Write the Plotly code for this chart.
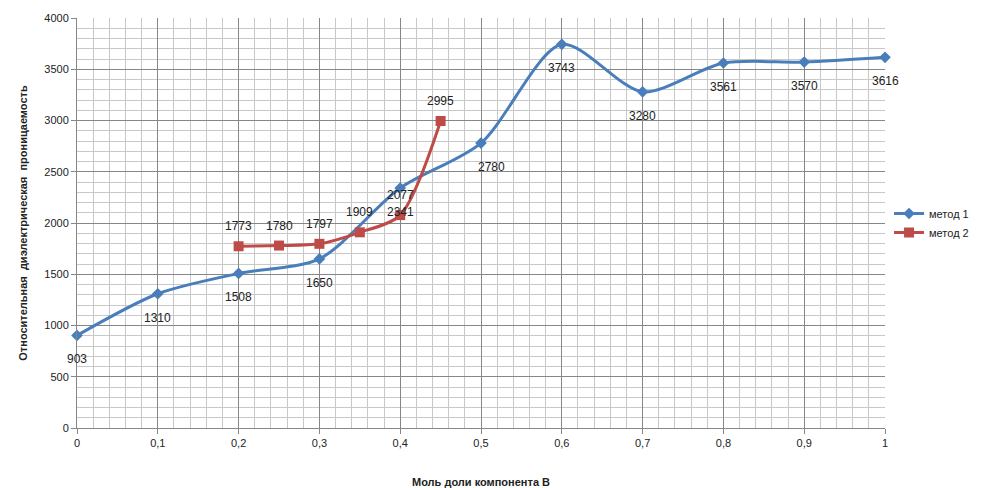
import plotly.graph_objects as go

x1 = [0, 0.1, 0.2, 0.3, 0.4, 0.5, 0.6, 0.7, 0.8, 0.9, 1.0]
y1 = [903, 1310, 1508, 1650, 2341, 2780, 3743, 3280, 3561, 3570, 3616]
x2 = [0.2, 0.25, 0.3, 0.35, 0.4, 0.45]
y2 = [1773, 1780, 1797, 1909, 2077, 2995]
xticks = [0, 0.1, 0.2, 0.3, 0.4, 0.5, 0.6, 0.7, 0.8, 0.9, 1.0]
xlabels = ["0", "0,1", "0,2", "0,3", "0,4", "0,5", "0,6", "0,7", "0,8", "0,9", "1"]

blue = "#4a7ebb"
red = "#be4b48"
font = "Liberation Sans"
txt = "#222"

fig = go.Figure()
fig.add_trace(go.Scatter(
    x=x1, y=y1, name="метод 1", mode="lines+markers",
    line=dict(color=blue, width=3, shape="spline", smoothing=0.8),
    marker=dict(symbol="diamond", size=9, color=blue),
    cliponaxis=False,
))
fig.add_trace(go.Scatter(
    x=x2, y=y2, name="метод 2", mode="lines+markers",
    line=dict(color=red, width=3, shape="spline", smoothing=0.8),
    marker=dict(symbol="square", size=10, color=red),
    cliponaxis=False,
))

# data labels: method 1 below points, method 2 above
for xv, yv in zip(x1, y1):
    fig.add_annotation(x=xv, y=yv, text=str(yv), showarrow=False,
                       yshift=-24, xshift=10 if xv == 0.5 else 0,
                       font=dict(size=12, color=txt))
for xv, yv in zip(x2, y2):
    fig.add_annotation(x=xv, y=yv, text=str(yv), showarrow=False,
                       yshift=20, font=dict(size=12, color=txt))

grid_major = "#868686"
grid_minor = "#c8c8c8"
fig.update_xaxes(
    range=[0, 1], tickvals=xticks, ticktext=xlabels,
    showgrid=True, gridcolor=grid_major, gridwidth=1,
    minor=dict(dtick=0.02, showgrid=True, gridcolor=grid_minor),
    zeroline=False, showline=True, linecolor=grid_major,
    ticks="outside", ticklen=5, tickcolor=grid_major,
    tickfont=dict(size=11, color=txt), automargin=False,
    title=dict(text="<b>Моль доли компонента В</b>", font=dict(size=11, color=txt), standoff=30),
)
fig.update_yaxes(
    range=[0, 4000], dtick=500,
    showgrid=True, gridcolor=grid_major, gridwidth=1,
    minor=dict(dtick=100, showgrid=True, gridcolor=grid_minor),
    zeroline=False, showline=True, linecolor=grid_major,
    ticks="outside", ticklen=5, tickcolor=grid_major,
    tickfont=dict(size=11, color=txt), automargin=False,
    title=dict(text="<b>Относительная  диэлектрическая  проницаемость</b>",
               font=dict(size=11, color=txt), standoff=14),
)
fig.update_layout(
    width=995, height=488,
    margin=dict(l=69, r=118, t=10, b=68, autoexpand=False),
    paper_bgcolor="white", plot_bgcolor="white",
    font=dict(family=font),
    legend=dict(x=1.005, y=0.5, yanchor="middle", font=dict(size=11, color=txt),
                tracegroupgap=14),
)
fig.write_html("out.html")
